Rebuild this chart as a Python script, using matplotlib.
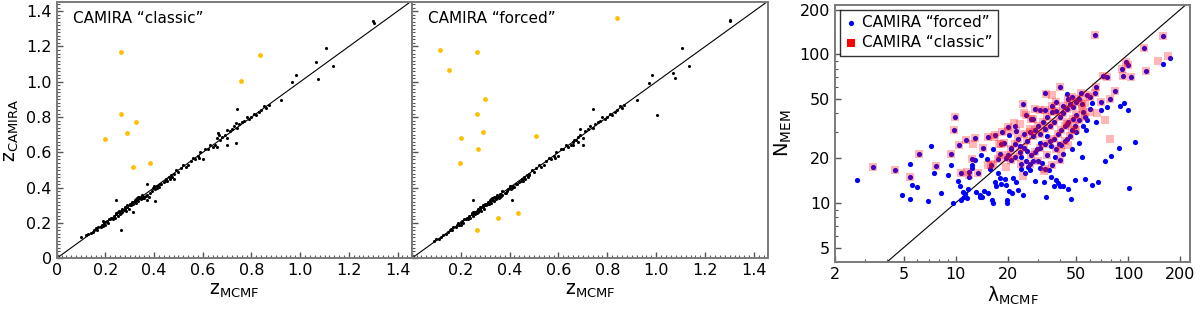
import matplotlib
matplotlib.use("Agg")
import matplotlib.pyplot as plt
from matplotlib.ticker import MultipleLocator, LogLocator, FixedLocator, NullFormatter, FixedFormatter

# ---------------- data: left panels (redshift comparison) ----------------
classic_zm = [0.10, 0.12, 0.13, 0.14, 0.15, 0.155, 0.16, 0.165, 0.17, 0.18, 0.185, 0.19, 0.19, 0.195,
              0.20, 0.20, 0.205, 0.21, 0.215, 0.22, 0.225, 0.23, 0.235, 0.24, 0.245, 0.25, 0.25, 0.255,
              0.26, 0.26, 0.265, 0.27, 0.27, 0.275, 0.28, 0.28, 0.285, 0.29, 0.29, 0.295, 0.30, 0.30,
              0.305, 0.31, 0.31, 0.315, 0.32, 0.32, 0.325, 0.33, 0.33, 0.335, 0.34, 0.34, 0.345, 0.35,
              0.35, 0.355, 0.36, 0.36, 0.365, 0.37, 0.37, 0.369, 0.38, 0.385, 0.39, 0.395, 0.40, 0.40,
              0.405, 0.41, 0.41, 0.415, 0.42, 0.425, 0.43, 0.44, 0.445, 0.45, 0.455, 0.46, 0.465, 0.47,
              0.475, 0.48, 0.48, 0.49, 0.50, 0.51, 0.52, 0.53, 0.54, 0.55, 0.56, 0.57, 0.58, 0.585,
              0.59, 0.60, 0.61, 0.62, 0.63, 0.64, 0.65, 0.66, 0.665, 0.67, 0.68, 0.69, 0.70, 0.71,
              0.72, 0.73, 0.74, 0.75, 0.76, 0.77, 0.78, 0.79, 0.80, 0.81, 0.82, 0.83, 0.84, 0.85,
              0.86, 0.87, 0.335, 0.345, 0.355, 0.325, 0.315, 0.305, 0.285, 0.265, 0.245,
              1.30, 1.302, 1.105, 1.065, 1.135, 1.075, 0.981, 0.966, 0.921, 0.739, 0.737, 0.737,
              0.70, 0.663, 0.698, 0.657, 0.245, 0.265, 0.405, 0.313]
classic_zc = [0.12, 0.13, 0.14, 0.145, 0.15, 0.16, 0.17, 0.16, 0.175, 0.18, 0.19, 0.21, 0.185, 0.20,
              0.19, 0.205, 0.21, 0.20, 0.22, 0.225, 0.23, 0.225, 0.24, 0.23, 0.25, 0.26, 0.24, 0.27,
              0.265, 0.25, 0.27, 0.28, 0.26, 0.275, 0.28, 0.29, 0.27, 0.29, 0.30, 0.28, 0.30, 0.31,
              0.30, 0.31, 0.32, 0.305, 0.32, 0.33, 0.315, 0.33, 0.34, 0.325, 0.34, 0.35, 0.335, 0.35,
              0.36, 0.345, 0.35, 0.34, 0.355, 0.36, 0.33, 0.419, 0.35, 0.37, 0.38, 0.40, 0.40, 0.41,
              0.395, 0.41, 0.40, 0.41, 0.405, 0.42, 0.42, 0.43, 0.44, 0.45, 0.44, 0.46, 0.45, 0.47,
              0.46, 0.48, 0.45, 0.50, 0.49, 0.51, 0.53, 0.52, 0.53, 0.55, 0.57, 0.56, 0.58, 0.57,
              0.60, 0.56, 0.62, 0.62, 0.64, 0.63, 0.64, 0.68, 0.70, 0.67, 0.69, 0.70, 0.68, 0.72,
              0.73, 0.75, 0.74, 0.76, 0.77, 0.78, 0.80, 0.79, 0.80, 0.82, 0.81, 0.83, 0.84, 0.86,
              0.85, 0.87, 0.345, 0.35, 0.34, 0.335, 0.32, 0.31, 0.29, 0.255, 0.255,
              1.345, 1.335, 1.189, 1.111, 1.092, 1.017, 1.040, 0.998, 0.896, 0.843, 0.768, 0.655,
              0.726, 0.711, 0.642, 0.632, 0.33, 0.16, 0.326, 0.26]
classic_out_zm = [0.265, 0.837, 0.758, 0.263, 0.327, 0.287, 0.197, 0.313, 0.385]
classic_out_zc = [1.166, 1.151, 1.006, 0.817, 0.774, 0.708, 0.674, 0.515, 0.542]

forced_zm = [0.09, 0.10, 0.11, 0.12, 0.13, 0.14, 0.15, 0.155, 0.16, 0.165, 0.17, 0.18, 0.185, 0.19,
             0.195, 0.20, 0.20, 0.205, 0.21, 0.215, 0.22, 0.225, 0.23, 0.235, 0.24, 0.245, 0.25,
             0.25, 0.255, 0.26, 0.26, 0.265, 0.27, 0.27, 0.275, 0.28, 0.28, 0.285, 0.29, 0.29, 0.295,
             0.30, 0.30, 0.305, 0.31, 0.31, 0.315, 0.32, 0.32, 0.325, 0.33, 0.33, 0.335, 0.34, 0.34,
             0.345, 0.35, 0.35, 0.355, 0.36, 0.36, 0.365, 0.37, 0.37, 0.38, 0.385, 0.39, 0.395, 0.40,
             0.40, 0.405, 0.41, 0.41, 0.415, 0.42, 0.425, 0.43, 0.44, 0.445, 0.45, 0.455, 0.46, 0.465,
             0.47, 0.475, 0.48, 0.48, 0.49, 0.50, 0.51, 0.52, 0.53, 0.54, 0.55, 0.56, 0.57, 0.58,
             0.585, 0.59, 0.60, 0.61, 0.62, 0.63, 0.64, 0.65, 0.66, 0.665, 0.67, 0.68, 0.69, 0.70,
             0.71, 0.72, 0.73, 0.74, 0.75, 0.76, 0.77, 0.78, 0.79, 0.80, 0.81, 0.82, 0.83, 0.84,
             0.85, 0.86, 0.87, 0.335, 0.345, 0.355, 0.325, 0.315, 0.305, 0.285, 0.265, 0.245,
             1.30, 1.302, 1.106, 1.135, 1.069, 1.076, 0.984, 0.970, 0.923, 1.003, 0.741, 0.25, 0.411,
             0.69, 0.70, 0.68, 0.66]
forced_zc = [0.10, 0.11, 0.11, 0.12, 0.13, 0.135, 0.15, 0.16, 0.165, 0.16, 0.175, 0.18, 0.19, 0.20,
             0.19, 0.19, 0.205, 0.21, 0.20, 0.22, 0.225, 0.23, 0.225, 0.24, 0.23, 0.25, 0.26, 0.24,
             0.265, 0.265, 0.25, 0.27, 0.28, 0.26, 0.275, 0.28, 0.29, 0.27, 0.29, 0.30, 0.28, 0.30,
             0.31, 0.30, 0.31, 0.32, 0.305, 0.32, 0.33, 0.315, 0.33, 0.34, 0.325, 0.34, 0.35, 0.335,
             0.35, 0.36, 0.345, 0.35, 0.365, 0.355, 0.36, 0.38, 0.37, 0.37, 0.38, 0.39, 0.40, 0.41,
             0.395, 0.41, 0.40, 0.41, 0.405, 0.42, 0.42, 0.43, 0.44, 0.45, 0.44, 0.46, 0.45, 0.47,
             0.46, 0.48, 0.47, 0.50, 0.49, 0.51, 0.53, 0.52, 0.53, 0.55, 0.57, 0.56, 0.58, 0.57,
             0.60, 0.58, 0.62, 0.62, 0.64, 0.63, 0.64, 0.66, 0.67, 0.67, 0.69, 0.70, 0.68, 0.72,
             0.73, 0.75, 0.74, 0.76, 0.77, 0.78, 0.80, 0.79, 0.80, 0.82, 0.81, 0.83, 0.84, 0.86,
             0.85, 0.87, 0.345, 0.35, 0.34, 0.335, 0.32, 0.31, 0.29, 0.255, 0.255,
             1.35, 1.345, 1.19, 1.092, 1.05, 1.02, 1.036, 0.992, 0.896, 0.813, 0.845, 0.33, 0.33,
             0.73, 0.64, 0.66, 0.64]
forced_out_zm = [0.84, 0.114, 0.269, 0.153, 0.301, 0.266, 0.292, 0.200, 0.509, 0.271, 0.197, 0.436, 0.354, 0.269]
forced_out_zc = [1.36, 1.181, 1.168, 1.066, 0.900, 0.817, 0.713, 0.683, 0.694, 0.619, 0.542, 0.257, 0.226, 0.158]

# ---------------- data: right panel (richness comparison) ----------------
both_lam = [3.33, 4.44, 5.45, 6.1, 7.7, 9.35, 9.9, 9.8, 10.4, 10.8, 11.5, 13.0, 12.5, 13.5, 14.4, 15.3,
            16.9, 19.0, 18.2, 20.0, 24.6, 27.3, 28.2, 30.9, 33.0, 38.0, 36.0, 34.0, 32.0, 30.0, 29.0,
            27.0, 25.0, 23.0, 22.0, 21.0, 20.0, 19.5, 26.0, 28.0, 31.0, 33.0, 35.0, 37.0, 40.0, 42.0,
            44.0, 46.0, 48.0, 50.0, 52.0, 54.0, 55.0, 56.0, 48.0, 45.0, 43.0, 41.0, 39.0, 37.0, 35.0,
            33.0, 31.0, 29.0, 27.5, 25.0, 23.5, 22.0, 30.0, 34.0, 38.0, 41.0, 43.0, 46.0, 40.0, 36.0,
            33.0, 27.0, 24.0, 21.0, 17.5, 16.0, 50.0, 53.0, 47.0, 60.0, 64.0, 58.0, 70.0, 65.0, 71.0,
            75.0, 78.0, 64.0, 124.0, 158.0, 100.0, 97.0, 92.0, 93.0, 104.0, 127.0, 84.0, 44.0, 47.0,
            52.0, 49.0, 38.0, 36.0, 29.0, 25.5, 22.5, 18.5, 42.0, 45.0, 40.0]
both_n = [17.5, 16.6, 15.0, 21.2, 17.8, 21.3, 37.6, 31.0, 24.5, 15.8, 26.6, 27.5, 19.7, 15.8, 23.3, 27.9,
          28.8, 25.4, 25.0, 32.2, 46.0, 37.0, 36.6, 42.1, 42.1, 41.6, 41.0, 38.0, 35.0, 33.0, 31.0,
          30.0, 29.0, 27.0, 25.0, 23.0, 21.0, 20.0, 26.0, 28.0, 29.0, 31.5, 33.0, 35.0, 38.0, 40.0,
          43.0, 46.0, 44.0, 48.0, 50.0, 46.0, 41.0, 38.0, 37.0, 35.0, 33.0, 31.0, 29.0, 27.0, 26.0,
          25.0, 23.5, 22.0, 21.0, 23.5, 22.0, 20.5, 19.0, 21.0, 23.0, 24.5, 26.0, 28.0, 19.5, 18.0,
          17.0, 18.2, 18.3, 19.5, 19.6, 18.0, 39.0, 55.0, 52.0, 52.0, 55.0, 53.0, 48.0, 60.0, 72.0,
          70.0, 50.0, 135.0, 110.0, 132.0, 85.0, 89.0, 80.0, 72.0, 70.0, 77.0, 57.0, 34.0, 31.0,
          36.0, 33.0, 48.0, 45.0, 43.0, 39.0, 30.5, 30.0, 45.0, 50.0, 60.0]
forced_only_lam = [2.7, 4.9, 5.45, 5.45, 5.6, 6.0, 6.9, 7.2, 8.2, 9.35, 9.7, 10.6, 10.8, 11.0, 11.4, 11.6,
                   11.8, 11.2, 12.0, 12.5, 12.4, 13.2, 13.8, 13.9, 14.6, 14.3, 15.3, 15.8, 16.3, 16.4,
                   17.2, 17.0, 17.7, 18.0, 18.3, 19.2, 19.5, 19.8, 19.9, 20.5, 21.2, 21.5, 22.5, 23.0,
                   24.6, 24.0, 25.2, 26.3, 27.0, 28.0, 29.0, 30.7, 31.5, 32.6, 33.6, 34.8, 35.9, 37.0,
                   38.0, 39.0, 40.5, 42.0, 44.5, 46.5, 49.0, 54.0, 56.5, 61.5, 67.0, 73.0, 80.0, 88.0,
                   101.0, 110.0, 57.0, 60.0, 62.0, 65.0, 70.0, 75.0, 90.0, 95.0, 100.0, 160.0, 175.0,
                   33.0, 44.0, 22.0, 20.5, 21.0, 23.5, 24.0, 25.5, 26.0, 29.5, 31.0, 34.0, 35.5, 37.5,
                   39.5, 42.0, 44.0, 47.0, 50.0, 52.0, 55.0, 58.0, 18.0, 16.5, 15.2, 14.0, 13.0, 12.0,
                   10.3, 9.0, 7.5]
forced_only_n = [14.3, 11.3, 18.2, 10.6, 13.2, 12.8, 10.3, 24.2, 11.7, 17.9, 10.0, 12.9, 10.5, 11.8, 11.5, 10.8,
                 12.5, 10.9, 16.2, 18.1, 17.1, 11.8, 11.3, 10.9, 12.0, 11.0, 11.6, 16.9, 10.4, 10.0,
                 12.9, 13.9, 15.9, 14.8, 13.5, 14.5, 13.3, 10.5, 10.0, 12.1, 11.6, 14.8, 13.9, 12.3,
                 11.3, 17.0, 16.0, 17.5, 16.7, 19.0, 14.0, 17.2, 18.5, 13.8, 11.0, 16.6, 15.0, 13.0,
                 14.2, 13.6, 13.0, 12.9, 12.4, 10.7, 14.3, 20.5, 14.5, 13.2, 13.8, 19.0, 20.6, 23.5,
                 12.6, 25.9, 31.0, 43.0, 47.0, 35.0, 42.0, 44.0, 45.0, 47.0, 42.0, 86.0, 95.0,
                 55.0, 54.0, 33.0, 28.5, 23.5, 24.0, 20.3, 19.0, 22.2, 23.0, 25.5, 28.0, 24.0, 20.5,
                 25.0, 21.2, 27.0, 23.0, 30.0, 25.5, 33.0, 36.0, 21.5, 23.0, 19.8, 21.0, 19.5, 14.9,
                 14.0, 15.5, 16.0]
classic_only_lam = [12.6, 11.6, 16.6, 17.8, 20.0, 21.8, 23.5, 24.8, 36.3, 33.5, 148.0, 170.0, 78.0, 66.0,
                    73.0, 54.0, 50.0, 45.0, 41.0, 32.5, 24.5, 19.5, 16.5, 15.5, 12.0, 18.0, 27.0, 60.0, 56.0]
classic_only_n = [25.0, 16.2, 27.8, 25.0, 30.5, 34.7, 34.2, 40.4, 53.0, 54.0, 90.0, 98.0, 27.0, 40.0,
                  36.0, 43.0, 31.0, 24.5, 22.0, 16.5, 15.2, 17.5, 18.3, 18.0, 15.3, 21.0, 31.5, 41.0, 47.0]

forced_lam = both_lam + forced_only_lam
forced_n = both_n + forced_only_n
classic_lam = both_lam + classic_only_lam
classic_n = both_n + classic_only_n

panel_titles = ["CAMIRA \u201cclassic\u201d", "CAMIRA \u201cforced\u201d"]
z_ticks = [0, 0.2, 0.4, 0.6, 0.8, 1.0, 1.2, 1.4]
z_ticklabels = ["0", "0.2", "0.4", "0.6", "0.8", "1.0", "1.2", "1.4"]
lam_ticks = [2, 5, 10, 20, 50, 100, 200]
n_ticks = [5, 10, 20, 50, 100, 200]

# ---------------- figure ----------------
plt.rcParams['font.family'] = ['DejaVu Sans']
W, H = 1200, 311
fig = plt.figure(figsize=(W / 100, H / 100), dpi=100)

spine_col = '#7a7a7a'
def frac(x0, y0, x1, y1):
    return [x0 / W, 1 - y1 / H, (x1 - x0) / W, (y1 - y0) / H]

ax1 = fig.add_axes(frac(56.7, 2, 411.7, 258.3))
ax2 = fig.add_axes(frac(411.7, 2, 768.3, 258.3))
ax3 = fig.add_axes(frac(835, 5, 1190, 262))

def style(ax):
    for s in ax.spines.values():
        s.set_color(spine_col)
        s.set_linewidth(1.4)
    ax.tick_params(which='both', direction='in', top=False, right=False, colors='#555555',
                   labelcolor='black', labelsize=11.5)
    ax.tick_params(which='major', length=4, width=1)
    ax.tick_params(which='minor', length=2, width=0.8)

for ax, zm, zc, ozm, ozc, title in [(ax1, classic_zm, classic_zc, classic_out_zm, classic_out_zc, panel_titles[0]),
                                     (ax2, forced_zm, forced_zc, forced_out_zm, forced_out_zc, panel_titles[1])]:
    style(ax)
    ax.set_xlim(0, 1.458)
    ax.set_ylim(0, 1.452)
    ax.axline((0, 0), slope=1, color='black', lw=0.8, zorder=1)
    ax.scatter(zm, zc, s=5, color='black', linewidths=0, zorder=3)
    ax.scatter(ozm, ozc, s=12, color='#FFBE00', linewidths=0, zorder=3)
    ax.set_xticks(z_ticks)
    ax.set_yticks(z_ticks)
    ax.xaxis.set_minor_locator(MultipleLocator(0.02))
    ax.yaxis.set_minor_locator(MultipleLocator(0.02))
    ax.text(0.045, 0.965, title, transform=ax.transAxes, ha='left', va='top', fontsize=11)
    ax.set_xlabel(r'$\mathregular{z_{MCMF}}$', fontsize=13.5, labelpad=2)

ax1.set_xticklabels(z_ticklabels)
ax2.set_xticklabels([""] + z_ticklabels[1:])
ax1.set_yticklabels(z_ticklabels)
ax1.set_ylabel(r'$\mathregular{z_{CAMIRA}}$', fontsize=13.5, labelpad=4)
ax2.set_yticklabels([])

style(ax3)
ax3.set_xscale('log')
ax3.set_yscale('log')
ax3.set_xlim(2, 228)
ax3.set_ylim(4, 215)
ax3.axline((1, 1), (100, 100), color='black', lw=0.8, zorder=1)
ax3.scatter(forced_lam, forced_n, s=14, color='#0000FF', marker='o', linewidths=0, zorder=2)
ax3.scatter(classic_lam, classic_n, s=36, color='red', marker='s', alpha=0.28, linewidths=0, zorder=3)
ax3.xaxis.set_major_locator(FixedLocator(lam_ticks))
ax3.xaxis.set_major_formatter(FixedFormatter([str(t) for t in lam_ticks]))
ax3.xaxis.set_minor_locator(LogLocator(base=10, subs=range(2, 10)))
ax3.xaxis.set_minor_formatter(NullFormatter())
ax3.yaxis.set_major_locator(FixedLocator(n_ticks))
ax3.yaxis.set_major_formatter(FixedFormatter([str(t) for t in n_ticks]))
ax3.yaxis.set_minor_locator(LogLocator(base=10, subs=range(2, 10)))
ax3.yaxis.set_minor_formatter(NullFormatter())
ax3.set_xlabel(r'$\mathregular{\lambda_{MCMF}}$', fontsize=13.5, labelpad=2)
ax3.set_ylabel(r'$\mathregular{N_{MEM}}$', fontsize=14, labelpad=4)

h1 = ax3.scatter([], [], s=14, color='#0000FF', marker='o', linewidths=0)
h2 = ax3.scatter([], [], s=30, color='red', marker='s', linewidths=0)
leg = ax3.legend([h1, h2], ["CAMIRA \u201cforced\u201d", "CAMIRA \u201cclassic\u201d"], loc='upper left',
                 fontsize=11, frameon=True, fancybox=False, edgecolor='black', handlelength=0.8,
                 handletextpad=0.3, borderpad=0.35, labelspacing=0.35, borderaxespad=0.3)
leg.get_frame().set_linewidth(1.0)

fig.savefig('out.png', dpi=100)
